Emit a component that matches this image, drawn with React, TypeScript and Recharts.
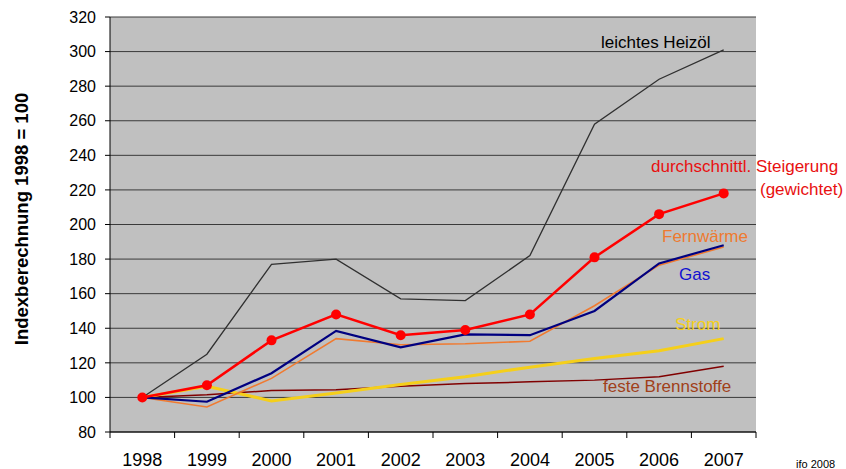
import { LineChart, Line, XAxis, YAxis, CartesianGrid } from 'recharts'

const years = ['1998', '1999', '2000', '2001', '2002', '2003', '2004', '2005', '2006', '2007']
const heizoel = [100, 125, 177, 180, 157, 156, 182, 258, 284, 301]
const durchschnitt = [100, 107, 133, 148, 136, 139, 148, 181, 206, 218]
const gas = [100, 97.5, 114, 138.5, 129, 136.5, 136, 150, 177.5, 188]
const fernwaerme = [100, 94.5, 111, 134, 130.5, 131, 132.5, 153, 176.5, 187]
const strom = [100, 106.5, 98, 102.5, 107.5, 112, 117.5, 122.5, 127, 134]
const festeBrennstoffe = [100, 101.5, 104, 104.5, 106.5, 108, 109, 110, 112, 118]
const yTicks = [80, 100, 120, 140, 160, 180, 200, 220, 240, 260, 280, 300, 320]

const data = years.map((year, i) => ({
  year,
  heizoel: heizoel[i],
  durchschnitt: durchschnitt[i],
  gas: gas[i],
  fernwaerme: fernwaerme[i],
  strom: strom[i],
  feste: festeBrennstoffe[i],
}))

const W = 846
const H = 469
const PLOT_W = 646
const BAND = PLOT_W / years.length
const FONT = '"Liberation Sans", Arial, sans-serif'

function YearTick({ x, y, payload }: { x?: number; y?: number; payload?: { value: string } }) {
  const half = BAND / 2
  const last = payload?.value === years[years.length - 1]
  return (
    <g>
      <line x1={x! - half} x2={x! - half} y1={y} y2={y! + 6} stroke="#000" />
      {last && <line x1={x! + half} x2={x! + half} y1={y} y2={y! + 6} stroke="#000" />}
      <text x={x} y={y! + 34} textAnchor="middle" fontSize={18} fill="#000" fontFamily={FONT}>
        {payload?.value}
      </text>
    </g>
  )
}

export default function App() {
  return (
    <div style={{ position: 'absolute', left: 0, top: 0, width: W, height: H, fontFamily: FONT }}>
      <LineChart width={W} height={H} data={data} margin={{ top: 17, right: 90, bottom: 0, left: 50 }}>
        <CartesianGrid fill="#c0c0c0" stroke="#3a3a3a" vertical={false} />
        <XAxis
          dataKey="year"
          height={37}
          interval={0}
          padding={{ left: BAND / 2, right: BAND / 2 }}
          axisLine={{ stroke: '#000' }}
          tickLine={false}
          tickSize={0}
          tickMargin={0}
          tick={<YearTick />}
        />
        <YAxis
          domain={[80, 320]}
          ticks={yTicks}
          interval={0}
          width={60}
          axisLine={{ stroke: '#000' }}
          tickLine={{ stroke: '#000' }}
          tickSize={5}
          tickMargin={9}
          tick={{ fontSize: 16, fill: '#000', fontFamily: FONT }}
        />
        <Line dataKey="heizoel" stroke="#303030" strokeWidth={1.3} dot={false} activeDot={false} isAnimationActive={false} />
        <Line dataKey="feste" stroke="#800000" strokeWidth={1.5} dot={false} activeDot={false} isAnimationActive={false} />
        <Line dataKey="strom" stroke="#f5cf1a" strokeWidth={3} dot={false} activeDot={false} isAnimationActive={false} />
        <Line dataKey="fernwaerme" stroke="#f07a30" strokeWidth={1.6} dot={false} activeDot={false} isAnimationActive={false} />
        <Line dataKey="gas" stroke="#000080" strokeWidth={2.2} dot={false} activeDot={false} isAnimationActive={false} />
        <Line
          dataKey="durchschnitt"
          stroke="#ff0000"
          strokeWidth={2.5}
          dot={{ r: 5, fill: '#ff0000', stroke: '#ff0000', strokeWidth: 0 }}
          activeDot={false}
          isAnimationActive={false}
        />
      </LineChart>
      <svg width={W} height={H} style={{ position: 'absolute', left: 0, top: 0, pointerEvents: 'none' }} fontFamily={FONT}>
        <text transform="translate(28,219) rotate(-90)" textAnchor="middle" fontSize={18.5} fontWeight="bold" fill="#000">
          Indexberechnung 1998 = 100
        </text>
        <text x={601} y={48} fontSize={17} fill="#000">leichtes Heizöl</text>
        <text x={651} y={172} fontSize={17} fill="#e81010">durchschnittl. Steigerung</text>
        <text x={760} y={195} fontSize={17} fill="#e81010">(gewichtet)</text>
        <text x={662} y={242} fontSize={17} fill="#ee7a30">Fernwärme</text>
        <text x={679} y={280} fontSize={17} fill="#1010d0">Gas</text>
        <text x={675} y={330} fontSize={17} fill="#f5cf1a">Strom</text>
        <text x={603} y={392} fontSize={17} fill="#a0401a">feste Brennstoffe</text>
        <text x={796} y={468} fontSize={11} fill="#000">ifo 2008</text>
      </svg>
    </div>
  )
}
